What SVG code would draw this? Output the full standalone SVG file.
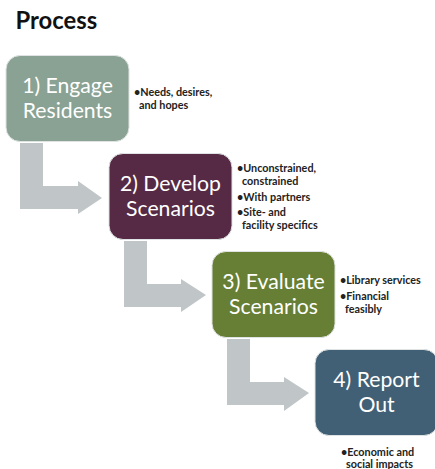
<svg xmlns="http://www.w3.org/2000/svg" width="435" height="469" viewBox="0 0 435 469">
<style>
text{font-family:Lato,"Open Sans","Liberation Sans",sans-serif}
.box{stroke:#dfe3e3;stroke-width:1}
.label{font-size:21.2px;fill:#fff;text-anchor:middle}
.note{font-size:10.8px;font-weight:700;fill:#222}
.arrow{fill:#c0c5c8}
</style>
<rect width="435" height="469" fill="#fff"/>
<text x="15.500" y="29" font-size="23.800" font-weight="700" fill="#111">Process</text>
<g id="connectors">
<path class="arrow" d="M20 143H43V186H78V181L102 198L78 214V209H20Z"/>
<path class="arrow" d="M124 241H147V284H181V279L206 295L181 312V307H124Z"/>
<path class="arrow" d="M227 339H250V382H284V377L309 393L284 411V405H227Z"/>
</g>
<g id="node1">
<rect class="box" x="6" y="55.500" width="123" height="86" rx="14" fill="#8aa294"/>
<text class="label" x="67.500" y="93">1) Engage</text>
<text class="label" x="67.500" y="118">Residents</text>
<text class="note" x="134" y="96">•Needs, desires,</text>
<text class="note" x="139" y="109">and hopes</text>
</g>
<g id="node2">
<rect class="box" x="109" y="153.500" width="123" height="86" rx="14" fill="#562a45"/>
<text class="label" x="170.500" y="191">2) Develop</text>
<text class="label" x="170.500" y="216">Scenarios</text>
<text class="note" x="237" y="172">•Unconstrained,</text>
<text class="note" x="242" y="185">constrained</text>
<text class="note" x="237" y="201">•With partners</text>
<text class="note" x="237" y="216">•Site- and</text>
<text class="note" x="242" y="229">facility specifics</text>
</g>
<g id="node3">
<rect class="box" x="212" y="251.500" width="123" height="86" rx="14" fill="#667f35"/>
<text class="label" x="273.500" y="289">3) Evaluate</text>
<text class="label" x="273.500" y="314">Scenarios</text>
<text class="note" x="340" y="284">•Library services</text>
<text class="note" x="340" y="300">•Financial</text>
<text class="note" x="345" y="313">feasibly</text>
</g>
<g id="node4">
<rect class="box" x="315" y="349.500" width="123" height="86" rx="14" fill="#426075"/>
<text class="label" x="376.500" y="387">4) Report</text>
<text class="label" x="376.500" y="412">Out</text>
<text class="note" x="341" y="456">•Economic and</text>
<text class="note" x="346" y="468">social impacts</text>
</g>
</svg>
